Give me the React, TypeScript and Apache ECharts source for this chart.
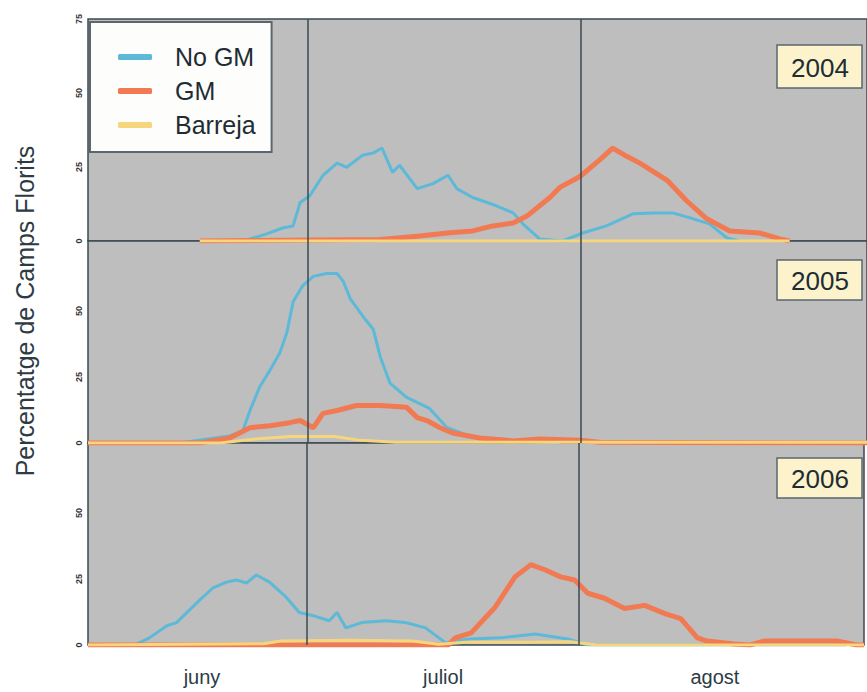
import React, { useEffect, useRef } from "react";
import * as echarts from "echarts";

const SERIES_NAMES = ["No GM", "GM", "Barreja"];
const YEARS = ["2004", "2005", "2006"];
const MONTHS = ["juny", "juliol", "agost"];
const MONTH_POS = [18, 45.5, 76.5];
const MONTH_BOUNDS = [30, 61];
const Y_TICKS = [0, 25, 50];
const Y_TICKS_TOP = [0, 25, 50, 75];

// x = days counted from 1 June (0), y = percentage
const noGm2004 = [[22, 0], [23.4, 0.7], [25.3, 2.4], [27.1, 4.4], [28.3, 5.1], [29.1, 13], [30.2, 15.3], [31.7, 22.2], [33.3, 26.3], [34.4, 24.9], [36.2, 29], [37.4, 29.7], [38.4, 31.4], [39.6, 23.2], [40.4, 25.6], [42.4, 17.7], [44.2, 19.4], [45.9, 22.2], [46.9, 17.7], [48.7, 14.7], [51.4, 11.9], [53.3, 9.5], [54.4, 5.8], [56.3, 0.7], [58.9, 0], [61.2, 2.7], [63.9, 5.1], [66.9, 9.2], [69.2, 9.5], [71.4, 9.5], [73.4, 7.8], [75.6, 5.8], [77.6, 1], [79, 0]];
const gm2004 = [[17.7, 0], [38.2, 0.5], [42.7, 1.7], [45.8, 2.7], [48.7, 3.4], [51, 5.1], [53.3, 6.1], [54.9, 8.5], [57.5, 14.8], [58.6, 18.1], [60.9, 21.8], [63.1, 27.3], [64.6, 31.4], [66.2, 28.6], [67.7, 26.3], [70.8, 20.5], [73, 13.6], [75.3, 7.5], [77.9, 3.4], [81.3, 2.7], [83.6, 0.7], [84.7, 0]];
const barreja2004 = [[17.7, 0], [84.7, 0]];

const noGm2005 = [[5, 0], [15.4, 0], [21.1, 2.7], [22.6, 4.6], [23.4, 12.3], [24.5, 21.2], [25.7, 27.7], [26.8, 34.2], [27.6, 41.9], [28.3, 53.5], [29.4, 59.6], [30.6, 63.1], [32.1, 64.2], [33.3, 64.2], [34, 61.2], [34.8, 54.6], [36.2, 48.1], [37.4, 43.1], [38.2, 32.7], [39.3, 22.7], [41.2, 17.3], [43.8, 13.1], [45.8, 5.8], [47.6, 3.5], [49.5, 1.9], [54.1, 0.8], [58.6, 0]];
const gm2005 = [[5, 0], [17.7, 0], [21.1, 1.9], [23.4, 5.8], [25.7, 6.5], [27.9, 7.7], [29.1, 8.5], [30.6, 5.8], [31.7, 11.2], [33.3, 12.3], [35.5, 14.2], [38.2, 14.2], [41.2, 13.5], [42.4, 9.6], [43.5, 8.5], [45, 5.8], [46.4, 3.8], [49.5, 1.9], [53.3, 0.8], [56.3, 1.5], [60.9, 1], [63.1, 0.3], [93.5, 0]];
const barreja2005 = [[5, 0], [20, 0], [24, 1.5], [28, 2.5], [33, 2.5], [36, 1], [40, 0.3], [93.5, 0.3]];

const noGm2006 = [[5, 0], [10, 0], [10.6, 0.4], [12, 2.7], [14, 7.3], [15.1, 8.5], [17.7, 16.9], [19.2, 21.5], [20.8, 23.8], [21.9, 24.6], [23.1, 23.5], [24.2, 26.5], [25.7, 23.8], [27.6, 18.1], [29.1, 12.3], [30.6, 11.2], [32.5, 9.2], [33.4, 12.3], [34.4, 6.5], [36.2, 8.5], [39, 9.2], [41.2, 8.5], [43.5, 6.5], [45.8, 0.8], [48.4, 2.3], [52.1, 2.7], [56, 4.2], [59.7, 2.3], [62, 0], [91.5, 0]];
const gm2006 = [[5, 0], [46.1, 0], [46.9, 2.7], [48.7, 4.6], [51.4, 14.2], [53.7, 25.8], [55.5, 30.4], [57.1, 28.5], [58.9, 25.8], [60.5, 24.6], [62, 19.6], [63.9, 17.7], [66.2, 13.8], [68.5, 15], [70.8, 11.9], [72.6, 10], [74.5, 2.7], [75.6, 1.5], [78.7, 0.4], [80.5, 0], [82.1, 1.5], [90.4, 1.5], [92.7, 0], [93.5, 0]];
const barreja2006 = [[5, 0], [25, 0.5], [27, 1.5], [35, 1.8], [42, 1.5], [45, 0.3], [48, 1], [55, 1], [60, 1.2], [63, 0], [93.5, 0]];

const DATA = [
  [noGm2004, gm2004, barreja2004],
  [noGm2005, gm2005, barreja2005],
  [noGm2006, gm2006, barreja2006],
];

const COLORS = ["#5cb9d8", "#f27a52", "#f6d57c"];
const WIDTHS = [3, 5, 3];
const FONT = "'Liberation Sans', Arial, sans-serif";
const DARK = "#3b4a52";

const GRIDS = [
  { top: 19, height: 222, max: 75 },
  { top: 241, height: 202, max: 76.5 },
  { top: 443, height: 202, max: 76.5 },
];
const YEAR_BOX = [
  { y: 45, h: 43 },
  { y: 260, h: 40 },
  { y: 458, h: 40 },
];

export default function App() {
  const ref = useRef<HTMLDivElement>(null);
  useEffect(() => {
    if (!ref.current) return;
    const chart = echarts.init(ref.current, null, { renderer: "svg" });
    const grid = GRIDS.map((g) => ({
      left: 88,
      right: 0,
      top: g.top,
      height: g.height,
      show: true,
      backgroundColor: "#bebebe",
      borderColor: DARK,
      borderWidth: 1.5,
    }));
    const xAxis = GRIDS.map((g, i) => ({
      type: "value",
      gridIndex: i,
      min: 5,
      max: 93.5,
      interval: 0.5,
      axisLine: { show: false },
      axisTick: { show: false },
      splitLine: { show: false },
      axisLabel: {
        show: i === 2,
        margin: 22,
        fontFamily: FONT,
        fontSize: 20,
        color: "#2c3b44",
        formatter: (v: number) => {
          const k = MONTH_POS.indexOf(v);
          return k >= 0 ? MONTHS[k] : "";
        },
      },
    }));
    const yAxis = GRIDS.map((g, i) => {
      const ticks = i === 0 ? Y_TICKS_TOP : Y_TICKS;
      return {
        type: "value",
        gridIndex: i,
        min: 0,
        max: g.max,
        interval: 25,
        axisLine: { show: false },
        axisTick: { show: false },
        splitLine: { show: false },
        axisLabel: {
          rotate: 90,
          margin: 5,
          fontFamily: FONT,
          fontSize: 9,
          fontWeight: "bold",
          color: "#333",
          formatter: (v: number) => (ticks.indexOf(v) >= 0 ? String(v) : ""),
        },
      };
    });
    const series: any[] = [];
    DATA.forEach((panel, gi) => {
      // draw order: Barreja, No GM, GM on top
      [2, 0, 1].forEach((si) => {
        series.push({
          type: "line",
          name: SERIES_NAMES[si],
          xAxisIndex: gi,
          yAxisIndex: gi,
          data: panel[si],
          showSymbol: false,
          symbol: "none",
          color: COLORS[si],
          lineStyle: { color: COLORS[si], width: WIDTHS[si] },
          z: 2 + si,
          markLine:
            si === 1
              ? {
                  silent: true,
                  symbol: "none",
                  label: { show: false },
                  lineStyle: { color: DARK, width: 1.5, type: "solid" },
                  data: MONTH_BOUNDS.map((b) => ({ xAxis: b })),
                }
              : undefined,
        });
      });
    });
    const graphic: any[] = [
      {
        type: "text",
        x: 25,
        y: 311,
        rotation: Math.PI / 2,
        style: {
          text: "Percentatge de Camps Florits",
          font: `25px ${FONT}`,
          fill: "#2c3b44",
          textAlign: "center",
          textVerticalAlign: "middle",
        },
      },
    ];
    YEARS.forEach((yr, i) => {
      const b = YEAR_BOX[i];
      graphic.push({
        type: "rect",
        z: 100,
        shape: { x: 777, y: b.y, width: 85, height: b.h },
        style: { fill: "#fcf3cc", stroke: "#5a676d", lineWidth: 1.5 },
      });
      graphic.push({
        type: "text",
        z: 101,
        x: 820,
        y: b.y + b.h / 2 + 1,
        style: {
          text: yr,
          font: `26px ${FONT}`,
          fill: "#1e2c34",
          textAlign: "center",
          textVerticalAlign: "middle",
        },
      });
    });
    chart.setOption({
      animation: false,
      grid,
      xAxis,
      yAxis,
      series,
      graphic,
      legend: {
        data: SERIES_NAMES,
        orient: "vertical",
        left: 90,
        top: 22,
        backgroundColor: "#fdfdfb",
        borderColor: "#5c676d",
        borderWidth: 2,
        padding: [22, 16, 14, 28],
        itemGap: 8,
        itemWidth: 34,
        itemHeight: 6,
        icon: "roundRect",
        textStyle: {
          fontFamily: FONT,
          fontSize: 25,
          color: "#1f2c34",
          lineHeight: 26,
          padding: [0, 0, 0, 18],
        },
      },
    });
    return () => chart.dispose();
  }, []);
  return (
    <div
      ref={ref}
      style={{ position: "absolute", left: 0, top: 0, width: 867, height: 692, background: "#fff" }}
    />
  );
}
